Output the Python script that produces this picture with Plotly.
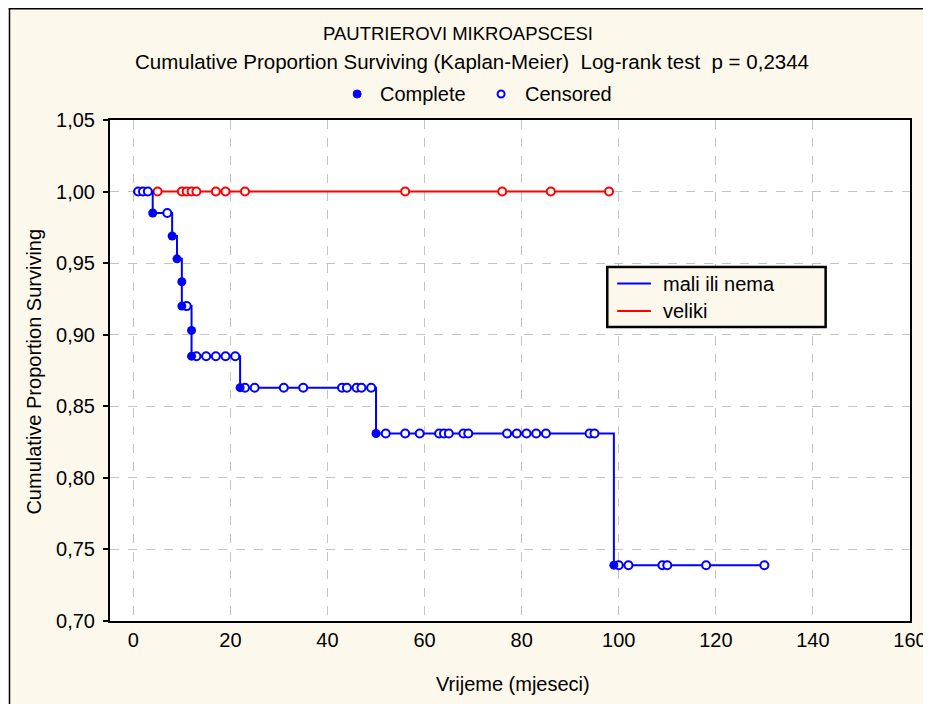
import plotly.graph_objects as go

# ---------------- data ----------------
x_ticks = [0, 20, 40, 60, 80, 100, 120, 140, 160]
x_tick_labels = ["0", "20", "40", "60", "80", "100", "120", "140", "160"]
y_ticks = [0.70, 0.75, 0.80, 0.85, 0.90, 0.95, 1.00, 1.05]
y_tick_labels = ["0,70", "0,75", "0,80", "0,85", "0,90", "0,95", "1,00", "1,05"]

# group "mali ili nema" (blue)
blue_step_t = [0, 4, 8, 9, 10, 12, 22, 50, 99, 130]
blue_step_s = [1.000, 0.985, 0.969, 0.953, 0.920, 0.885, 0.863, 0.831, 0.739, 0.739]
blue_event_t = [4, 8, 9, 10, 10, 12, 12, 22, 50, 99]
blue_event_s = [0.985, 0.969, 0.953, 0.937, 0.920, 0.903, 0.885, 0.863, 0.831, 0.739]
blue_cens_t = [1, 2, 3,
               7,
               11,
               13, 15, 17, 19, 21,
               23, 25, 31, 35, 43, 44, 46, 47, 49,
               52, 56, 59, 63, 64, 65, 68, 69, 77, 79, 81, 83, 85, 94, 95,
               100, 102, 109, 110, 118, 130]
blue_cens_s = [1.000, 1.000, 1.000,
               0.985,
               0.920,
               0.885, 0.885, 0.885, 0.885, 0.885,
               0.863, 0.863, 0.863, 0.863, 0.863, 0.863, 0.863, 0.863, 0.863,
               0.831, 0.831, 0.831, 0.831, 0.831, 0.831, 0.831, 0.831, 0.831,
               0.831, 0.831, 0.831, 0.831, 0.831, 0.831,
               0.739, 0.739, 0.739, 0.739, 0.739, 0.739]

# group "veliki" (red)
red_step_t = [0, 98]
red_step_s = [1.000, 1.000]
red_cens_t = [5, 10, 11, 12, 13, 17, 19, 23, 56, 76, 86, 98]
red_cens_s = [1.000] * len(red_cens_t)

series_names = ["mali ili nema", "veliki"]

# ---------------- styling ----------------
OX, OY = 8, 8            # page offset of the figure (body margin)
W, H = 931, 704
L, T = 110 - OX, 120 - OY
R = W - (916 - OX)
B = H - (621 - OY)
BG = "#FDF8EC"
BLUE = "#0000FF"
RED = "#FF0000"
FONT = "Arial, Liberation Sans, sans-serif"
PW, PH = W - L - R, H - T - B


def px_x(px):
    """screen x pixel -> paper coordinate"""
    return (px - OX - L) / PW


def px_y(py):
    """screen y pixel -> paper coordinate"""
    return (H - B - (py - OY)) / PH


fig = go.Figure()

fig.add_trace(go.Scatter(x=red_step_t, y=red_step_s, mode="lines", line_shape="hv",
                         line=dict(color=RED, width=2), showlegend=False, hoverinfo="skip"))
fig.add_trace(go.Scatter(x=red_cens_t, y=red_cens_s, mode="markers",
                         marker=dict(symbol="circle", size=8, color="white",
                                     line=dict(color=RED, width=2)),
                         showlegend=False))
fig.add_trace(go.Scatter(x=blue_step_t, y=blue_step_s, mode="lines", line_shape="hv",
                         line=dict(color=BLUE, width=2), showlegend=False, hoverinfo="skip"))
fig.add_trace(go.Scatter(x=blue_cens_t, y=blue_cens_s, mode="markers",
                         marker=dict(symbol="circle", size=8, color="white",
                                     line=dict(color=BLUE, width=2)),
                         showlegend=False))
fig.add_trace(go.Scatter(x=blue_event_t, y=blue_event_s, mode="markers",
                         marker=dict(symbol="circle", size=9, color=BLUE,
                                     line=dict(color=BLUE, width=0)),
                         showlegend=False))

shapes = []
# outer frame: left and top edges of the figure
shapes.append(dict(type="line", xref="paper", yref="paper",
                   x0=px_x(OX + 0.75), x1=px_x(OX + 0.75), y0=px_y(720), y1=px_y(OY),
                   line=dict(color="black", width=1.5)))
shapes.append(dict(type="line", xref="paper", yref="paper",
                   x0=px_x(OX), x1=px_x(960), y0=px_y(OY + 0.75), y1=px_y(OY + 0.75),
                   line=dict(color="black", width=1.5)))
# series legend box
shapes.append(dict(type="rect", xref="paper", yref="paper",
                   x0=px_x(611), x1=px_x(831), y0=px_y(327), y1=px_y(267),
                   line=dict(color="black", width=2.5), fillcolor=BG, layer="above"))
shapes.append(dict(type="line", xref="paper", yref="paper",
                   x0=px_x(621), x1=px_x(655), y0=px_y(283.5), y1=px_y(283.5),
                   line=dict(color=BLUE, width=2)))
shapes.append(dict(type="line", xref="paper", yref="paper",
                   x0=px_x(621), x1=px_x(655), y0=px_y(311), y1=px_y(311),
                   line=dict(color=RED, width=2)))
# Complete / Censored markers
shapes.append(dict(type="circle", xref="paper", yref="paper",
                   xsizemode="pixel", ysizemode="pixel",
                   xanchor=px_x(359), yanchor=px_y(94), x0=-4, x1=4, y0=-4, y1=4,
                   line=dict(color=BLUE, width=1), fillcolor=BLUE))
shapes.append(dict(type="circle", xref="paper", yref="paper",
                   xsizemode="pixel", ysizemode="pixel",
                   xanchor=px_x(504), yanchor=px_y(94), x0=-3.5, x1=3.5, y0=-3.5, y1=3.5,
                   line=dict(color=BLUE, width=2), fillcolor="white"))

annotations = [
    dict(text="PAUTRIEROVI MIKROAPSCESI", x=px_x(461), y=px_y(33), font=dict(size=18.5)),
    dict(text="Cumulative Proportion Surviving (Kaplan-Meier)  Log-rank test  p = 0,2344",
         x=px_x(475), y=px_y(61), font=dict(size=20.5)),
    dict(text="Complete", x=px_x(380), y=px_y(94), xanchor="left", font=dict(size=20)),
    dict(text="Censored", x=px_x(526), y=px_y(94), xanchor="left", font=dict(size=20)),
    dict(text=series_names[0], x=px_x(665), y=px_y(284), xanchor="left", font=dict(size=20)),
    dict(text=series_names[1], x=px_x(665), y=px_y(311), xanchor="left", font=dict(size=20)),
    dict(text="Vrijeme (mjeseci)", x=px_x(516), y=px_y(684), font=dict(size=20)),
    dict(text="Cumulative Proportion Surviving", x=px_x(33), y=px_y(372), textangle=-90,
         font=dict(size=20)),
]
for a in annotations:
    a.setdefault("xanchor", "center")
    a.update(xref="paper", yref="paper", yanchor="middle", showarrow=False)
    a["font"].update(family=FONT, color="black")

fig.update_layout(
    width=W, height=H,
    margin=dict(l=L, r=R, t=T, b=B, pad=0),
    paper_bgcolor=BG, plot_bgcolor="white",
    font=dict(family=FONT, color="black", size=20),
    showlegend=False,
    shapes=shapes,
    annotations=annotations,
)
fig.update_xaxes(range=[-4.8, 160], tickvals=x_ticks, ticktext=x_tick_labels,
                 showgrid=True, gridcolor="#C4C4C4", griddash="dash", gridwidth=1,
                 zeroline=False, showline=True, linecolor="black", linewidth=2, mirror=True,
                 ticks="", ticklabelstandoff=0, ticklabeloverflow="allow",
                 tickfont=dict(size=20, family=FONT))
fig.update_yaxes(range=[0.70, 1.05], tickvals=y_ticks, ticktext=y_tick_labels,
                 showgrid=True, gridcolor="#C4C4C4", griddash="dash", gridwidth=1,
                 zeroline=False, showline=True, linecolor="black", linewidth=2, mirror=True,
                 ticks="outside", ticklen=5, tickwidth=1.5, tickcolor="black",
                 ticklabelstandoff=4, tickfont=dict(size=20, family=FONT))

fig.write_html("out.html",
               post_script="document.documentElement.style.overflow='hidden';"
                           "document.body.style.overflow='hidden';")
